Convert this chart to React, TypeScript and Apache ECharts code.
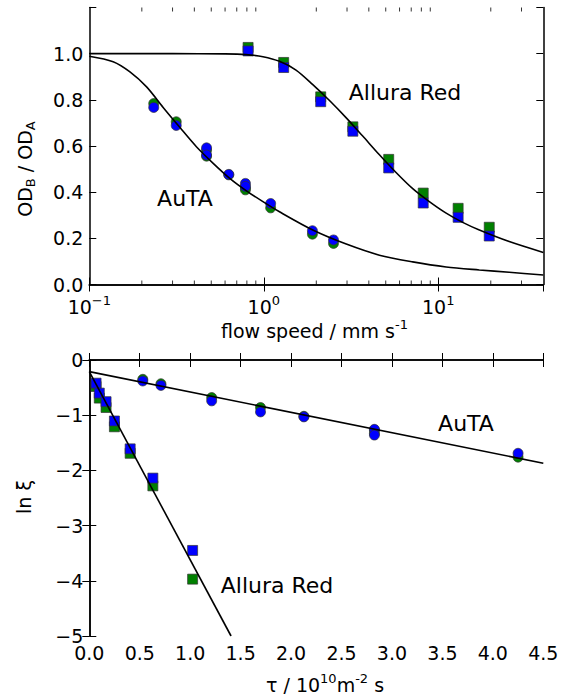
import React, { useEffect, useRef } from 'react';
import * as echarts from 'echarts';

const FONT = "'DejaVu Sans', 'Liberation Sans', sans-serif";

// ---------- Top panel: OD_B / OD_A vs flow speed (mm/s), log axis ----------
const autaSpeed = [0.234, 0.315, 0.47, 0.47, 0.63, 0.785, 0.785, 1.095, 1.9, 2.51];
const autaGreenTop = [0.784, 0.705, 0.582, 0.556, 0.475, 0.418, 0.41, 0.332, 0.218, 0.178];
const autaBlueTop = [0.767, 0.689, 0.592, 0.561, 0.477, 0.438, 0.425, 0.351, 0.233, 0.193];

const alluraSpeed = [0.813, 1.3, 2.12, 3.24, 5.2, 8.2, 13.0, 19.6];
const alluraGreenTop = [1.027, 0.962, 0.813, 0.683, 0.542, 0.396, 0.33, 0.248];
const alluraBlueTop = [1.012, 0.94, 0.792, 0.664, 0.505, 0.353, 0.291, 0.21];

const autaFitSpeed = [0.1, 0.137, 0.171, 0.213, 0.265, 0.33, 0.411, 0.513, 0.638, 0.795, 0.989, 1.23, 1.91, 2.97, 4.6, 7.14, 11.1, 17.2, 25.5, 40];
const autaFitValue = [0.989, 0.965, 0.921, 0.856, 0.767, 0.681, 0.597, 0.525, 0.46, 0.406, 0.359, 0.315, 0.236, 0.175, 0.127, 0.098, 0.076, 0.063, 0.053, 0.041];

const alluraFitSpeed = [0.1, 0.3, 0.6, 0.79, 0.989, 1.23, 1.53, 1.91, 2.38, 2.97, 3.69, 4.6, 5.73, 7.14, 8.89, 11.1, 13.8, 17.2, 25.5, 40];
const alluraFitValue = [1.0, 1.0, 0.999, 0.996, 0.987, 0.967, 0.929, 0.866, 0.797, 0.722, 0.643, 0.562, 0.485, 0.415, 0.359, 0.309, 0.269, 0.236, 0.186, 0.139];

const logMinorTicks = [0.2, 0.3, 0.4, 0.5, 0.6, 0.7, 0.8, 0.9, 2, 3, 4, 5, 6, 7, 8, 9, 20, 30];

// ---------- Bottom panel: ln xi vs tau (1e10 m^-2 s) ----------
const autaTau = [0.53, 0.71, 1.213, 1.697, 2.127, 2.826, 2.826, 4.25];
const autaGreenBot = [-0.35, -0.43, -0.68, -0.86, -1.02, -1.27, -1.33, -1.76];
const autaBlueBot = [-0.38, -0.46, -0.74, -0.94, -1.03, -1.256, -1.36, -1.69];

const alluraTau = [0.067, 0.099, 0.166, 0.249, 0.405, 0.63, 1.024];
const alluraGreenBot = [-0.48, -0.69, -0.86, -1.21, -1.69, -2.28, -3.97];
const alluraBlueBot = [-0.42, -0.6, -0.755, -1.105, -1.61, -2.14, -3.45];

const autaLineTau = [0, 4.5];
const autaLineValue = [-0.21, -1.87];
const alluraLineTau = [0, 1.405];
const alluraLineValue = [-0.21, -5];

const GREEN = '#008000';
const BLUE = '#0000ff';

const zip = (xs: number[], ys: number[]) => xs.map((x, i) => [x, ys[i]]);

const tickStyle = { inside: true, length: 7, lineStyle: { color: '#000', width: 1 } };
const lineAxis = { lineStyle: { color: '#000', width: 1.5 } };

export default function App() {
  const ref = useRef<HTMLDivElement>(null);

  useEffect(() => {
    if (!ref.current) return;
    const chart = echarts.init(ref.current, undefined, { renderer: 'svg' });

    const gridTop = { left: 89.3, top: 7.5, width: 454, height: 277 };
    const gridBot = { left: 89.3, top: 360, width: 454, height: 276 };

    const labelBase = { color: '#000', fontFamily: FONT, fontSize: 19 };

    const markerBase = (color: string, symbol: string) => ({
      symbol,
      symbolSize: 10,
      itemStyle: { color, borderColor: '#333', borderWidth: 0.7, opacity: 1 },
      silent: true,
    });

    const fitLine = (xi: number, yi: number, data: number[][], smooth: boolean) => ({
      type: 'line',
      xAxisIndex: xi,
      yAxisIndex: yi,
      data,
      showSymbol: false,
      symbol: 'none',
      smooth: smooth ? 0.3 : false,
      lineStyle: { color: '#000', width: 1.6 },
      z: 5,
      silent: true,
    });

    const option: any = {
      animation: false,
      backgroundColor: '#fff',
      grid: [
        { ...gridTop, containLabel: false, outerBoundsMode: 'none' },
        { ...gridBot, containLabel: false, outerBoundsMode: 'none' },
      ],
      xAxis: [
        {
          gridIndex: 0,
          type: 'log',
          logBase: 10,
          min: 0.1,
          max: 40,
          position: 'bottom',
          axisLine: lineAxis,
          axisTick: tickStyle,
          splitLine: { show: false },
          axisLabel: {
            ...labelBase,
            margin: 9,
            showMaxLabel: false,
            formatter: (v: number) => {
              const e = Math.log10(v);
              const r = Math.round(e);
              if (Math.abs(e - r) > 1e-6) return '';
              const sup = r < 0 ? '\u2212' + -r : String(r);
              return `{b|10}{s|${sup}}`;
            },
            rich: {
              b: { fontSize: 19, fontFamily: FONT, color: '#000' },
              s: { fontSize: 13, fontFamily: FONT, color: '#000', padding: [0, 0, 14, 0] },
            },
          },
        },
        {
          gridIndex: 0,
          type: 'log',
          logBase: 10,
          min: 0.1,
          max: 40,
          position: 'top',
          axisLine: lineAxis,
          axisTick: tickStyle,
          splitLine: { show: false },
          axisLabel: { show: false },
        },
        {
          gridIndex: 1,
          type: 'value',
          min: 0,
          max: 4.5,
          interval: 0.5,
          position: 'bottom',
          axisLine: lineAxis,
          axisTick: tickStyle,
          splitLine: { show: false },
          axisLabel: { ...labelBase, margin: 7, formatter: (v: number) => v.toFixed(1) },
        },
        {
          gridIndex: 1,
          type: 'value',
          min: 0,
          max: 4.5,
          interval: 0.5,
          position: 'top',
          axisLine: lineAxis,
          axisTick: tickStyle,
          splitLine: { show: false },
          axisLabel: { show: false },
        },
      ],
      yAxis: [
        {
          gridIndex: 0,
          type: 'value',
          min: 0,
          max: 1.2,
          interval: 0.2,
          position: 'left',
          axisLine: lineAxis,
          axisTick: tickStyle,
          splitLine: { show: false },
          axisLabel: {
            ...labelBase,
            margin: 6,
            formatter: (v: number) => (v > 1.1 ? '' : v.toFixed(1)),
          },
        },
        {
          gridIndex: 0,
          type: 'value',
          min: 0,
          max: 1.2,
          interval: 0.2,
          position: 'right',
          axisLine: lineAxis,
          axisTick: tickStyle,
          splitLine: { show: false },
          axisLabel: { show: false },
        },
        {
          gridIndex: 1,
          type: 'value',
          min: -5,
          max: 0,
          interval: 1,
          position: 'left',
          axisLine: lineAxis,
          axisTick: tickStyle,
          splitLine: { show: false },
          axisLabel: {
            ...labelBase,
            margin: 6,
            formatter: (v: number) => String(v).replace('-', '\u2212'),
          },
        },
        {
          gridIndex: 1,
          type: 'value',
          min: -5,
          max: 0,
          interval: 1,
          position: 'right',
          axisLine: lineAxis,
          axisTick: tickStyle,
          splitLine: { show: false },
          axisLabel: { show: false },
        },
      ],
      series: [
        // minor ticks of the log axis (bottom and top borders)
        {
          type: 'scatter',
          xAxisIndex: 0,
          yAxisIndex: 0,
          data: logMinorTicks.map((v) => [v, 0]),
          symbol: 'rect',
          symbolSize: [1, 4],
          symbolOffset: [0, -2],
          itemStyle: { color: '#000' },
          clip: false,
          silent: true,
          z: 6,
        },
        {
          type: 'scatter',
          xAxisIndex: 0,
          yAxisIndex: 0,
          data: logMinorTicks.map((v) => [v, 1.2]),
          symbol: 'rect',
          symbolSize: [1, 4],
          symbolOffset: [0, 2],
          itemStyle: { color: '#000' },
          clip: false,
          silent: true,
          z: 6,
        },
        // top panel markers
        { type: 'scatter', xAxisIndex: 0, yAxisIndex: 0, data: zip(autaSpeed, autaGreenTop), ...markerBase(GREEN, 'circle'), z: 2 },
        { type: 'scatter', xAxisIndex: 0, yAxisIndex: 0, data: zip(autaSpeed, autaBlueTop), ...markerBase(BLUE, 'circle'), z: 3 },
        { type: 'scatter', xAxisIndex: 0, yAxisIndex: 0, data: zip(alluraSpeed, alluraGreenTop), ...markerBase(GREEN, 'rect'), z: 2 },
        { type: 'scatter', xAxisIndex: 0, yAxisIndex: 0, data: zip(alluraSpeed, alluraBlueTop), ...markerBase(BLUE, 'rect'), z: 3 },
        fitLine(0, 0, zip(autaFitSpeed, autaFitValue), true),
        fitLine(0, 0, zip(alluraFitSpeed, alluraFitValue), true),
        // bottom panel markers
        { type: 'scatter', xAxisIndex: 2, yAxisIndex: 2, data: zip(autaTau, autaGreenBot), ...markerBase(GREEN, 'circle'), z: 2 },
        { type: 'scatter', xAxisIndex: 2, yAxisIndex: 2, data: zip(autaTau, autaBlueBot), ...markerBase(BLUE, 'circle'), z: 3 },
        { type: 'scatter', xAxisIndex: 2, yAxisIndex: 2, data: zip(alluraTau, alluraGreenBot), ...markerBase(GREEN, 'rect'), z: 2 },
        { type: 'scatter', xAxisIndex: 2, yAxisIndex: 2, data: zip(alluraTau, alluraBlueBot), ...markerBase(BLUE, 'rect'), z: 3 },
        fitLine(2, 2, zip(autaLineTau, autaLineValue), false),
        fitLine(2, 2, zip(alluraLineTau, alluraLineValue), false),
      ],
      graphic: [
        // series labels
        { type: 'text', x: 405, y: 92, style: { text: 'Allura Red', font: `22px ${FONT}`, fill: '#000', align: 'center', verticalAlign: 'middle' } },
        { type: 'text', x: 185, y: 198, style: { text: 'AuTA', font: `22px ${FONT}`, fill: '#000', align: 'center', verticalAlign: 'middle' } },
        { type: 'text', x: 466, y: 423, style: { text: 'AuTA', font: `22px ${FONT}`, fill: '#000', align: 'center', verticalAlign: 'middle' } },
        { type: 'text', x: 277, y: 585, style: { text: 'Allura Red', font: `22px ${FONT}`, fill: '#000', align: 'center', verticalAlign: 'middle' } },
        // axis titles
        {
          type: 'text',
          x: 221,
          y: 331,
          style: {
            text: '{m|flow speed / mm s}{s|-1}',
            align: 'left',
            verticalAlign: 'middle',
            fill: '#000',
            rich: {
              m: { fontSize: 19, fontFamily: FONT, color: '#000' },
              s: { fontSize: 13, fontFamily: FONT, color: '#000', padding: [0, 0, 14, 0] },
            },
          },
        },
        {
          type: 'text',
          x: 266,
          y: 685,
          style: {
            text: '{m|\u03c4 / 10}{s|10}{m|m}{s|-2}{m| s}',
            align: 'left',
            verticalAlign: 'middle',
            fill: '#000',
            rich: {
              m: { fontSize: 19, fontFamily: FONT, color: '#000' },
              s: { fontSize: 13, fontFamily: FONT, color: '#000', padding: [0, 0, 14, 0] },
            },
          },
        },
        {
          type: 'text',
          x: 25,
          y: 169,
          rotation: Math.PI / 2,
          style: {
            text: '{m|OD}{b|B}{m| / OD}{b|A}',
            align: 'center',
            verticalAlign: 'middle',
            fill: '#000',
            rich: {
              m: { fontSize: 19, fontFamily: FONT, color: '#000' },
              b: { fontSize: 13, fontFamily: FONT, color: '#000', padding: [10, 0, 0, 0] },
            },
          },
        },
        {
          type: 'text',
          x: 24,
          y: 497,
          rotation: Math.PI / 2,
          style: { text: 'ln \u03be', font: `19px ${FONT}`, fill: '#000', align: 'center', verticalAlign: 'middle' },
        },
      ],
    };

    chart.setOption(option);
    return () => chart.dispose();
  }, []);

  return (
    <div
      ref={ref}
      style={{ position: 'absolute', left: 0, top: 0, width: 561, height: 697, background: '#fff' }}
    />
  );
}
